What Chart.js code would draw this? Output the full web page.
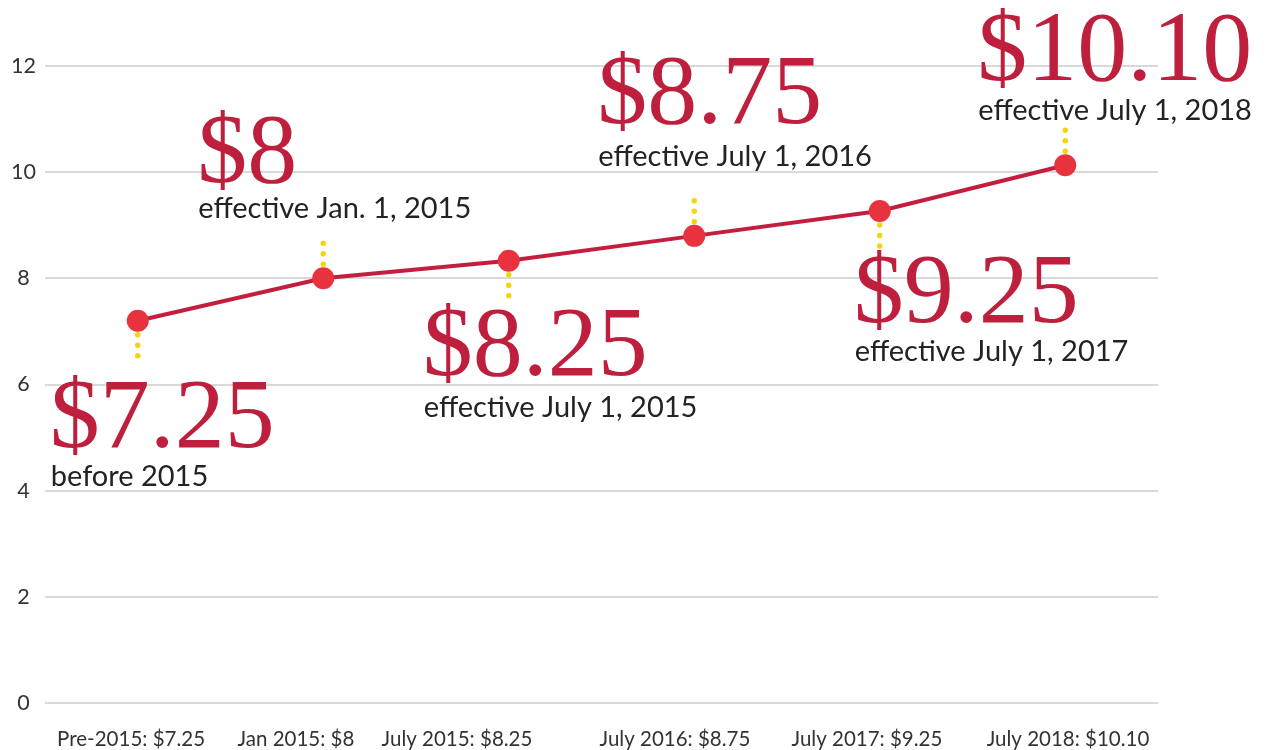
<!DOCTYPE html>
<html><head><meta charset="utf-8">
<script src="https://cdn.jsdelivr.net/npm/chart.js@4"></script>
<style>html,body{margin:0;padding:0;background:#fff}#wrap{width:1265px;height:750px;position:relative}</style>
</head><body><div id="wrap"><canvas id="c" width="1265" height="750"></canvas></div>
<script>
// ---- data ----
const categories = ['Pre-2015', 'Jan 2015', 'July 2015', 'July 2016', 'July 2017', 'July 2018'];
const wageValues = [7.2, 8.0, 8.33, 8.8, 9.27, 10.13];
const tickLabels = ['Pre-2015: $7.25', 'Jan 2015: $8', 'July 2015: $8.25', 'July 2016: $8.75', 'July 2017: $9.25', 'July 2018: $10.10'];
const tickSpots = [-0.036, 0.853, 1.721, 2.896, 3.931, 5.015];
const calloutAmounts = ['$7.25', '$8', '$8.25', '$8.75', '$9.25', '$10.10'];
const calloutNotes = ['before 2015', 'effective Jan. 1, 2015', 'effective July 1, 2015', 'effective July 1, 2016', 'effective July 1, 2017', 'effective July 1, 2018'];

// ---- callout layout (offsets from each point) ----
const calloutLayout = [
  { dx: -88, dy: 126, noteDy: 39, dir: 1 },
  { dx: -126, dy: -96, noteDy: 36, dir: -1 },
  { dx: -86, dy: 114, noteDy: 42, dir: 1 },
  { dx: -97, dy: -113, noteDy: 43, dir: -1 },
  { dx: -26, dy: 111, noteDy: 39, dir: 1 },
  { dx: -88, dy: -85, noteDy: 40, dir: -1 }
];

const calloutPlugin = {
  id: 'callouts',
  beforeDatasetsDraw(chart) {
    const ctx = chart.ctx;
    const pts = chart.getDatasetMeta(0).data;
    ctx.save();
    ctx.strokeStyle = '#f4d40c';
    ctx.lineWidth = 5.5;
    ctx.lineCap = 'round';
    ctx.setLineDash([0, 10.5]);
    pts.forEach((p, i) => {
      const d = calloutLayout[i].dir;
      ctx.beginPath();
      ctx.moveTo(p.x, p.y + d * 14);
      ctx.lineTo(p.x, p.y + d * 37);
      ctx.stroke();
    });
    ctx.restore();
  },
  afterDatasetsDraw(chart) {
    const ctx = chart.ctx;
    const pts = chart.getDatasetMeta(0).data;
    ctx.save();
    ctx.textAlign = 'left';
    ctx.textBaseline = 'alphabetic';
    pts.forEach((p, i) => {
      const L = calloutLayout[i];
      const x = p.x + L.dx;
      const yb = p.y + L.dy;
      ctx.fillStyle = '#be1f3c';
      ctx.font = '100px "Liberation Serif", serif';
      ctx.fillText(calloutAmounts[i], x, yb);
      ctx.fillStyle = '#232323';
      ctx.font = '29px Lato, sans-serif';
      ctx.fillText(calloutNotes[i], x + 1, yb + L.noteDy);
    });
    ctx.restore();
  }
};

new Chart(document.getElementById('c'), {
  type: 'line',
  data: {
    labels: categories,
    datasets: [{
      data: wageValues,
      borderColor: '#c41e3e',
      borderWidth: 4,
      pointRadius: 11,
      pointHoverRadius: 11,
      pointBackgroundColor: '#e8333f',
      pointBorderColor: '#e8333f',
      pointBorderWidth: 0,
      tension: 0,
      fill: false
    }]
  },
  options: {
    responsive: false,
    animation: false,
    events: [],
    layout: { padding: { top: 66, right: 107, bottom: 0, left: 10 } },
    plugins: { legend: { display: false }, tooltip: { enabled: false } },
    scales: {
      x: { type: 'category', display: false, offset: true },
      xLabels: {
        type: 'linear',
        position: 'bottom',
        min: -0.5,
        max: 5.5,
        afterFit: (axis) => { axis.height = 47; },
        grid: { display: false, drawTicks: false },
        border: { display: false },
        afterBuildTicks: (axis) => { axis.ticks = tickSpots.map(v => ({ value: v })); },
        ticks: {
          autoSkip: false,
          maxRotation: 0,
          padding: 24,
          color: '#333333',
          font: { family: 'Lato', size: 20.5 },
          callback: (v, i) => tickLabels[i]
        }
      },
      y: {
        min: 0,
        max: 12,
        afterFit: (axis) => { axis.width = 35; },
        grid: { color: '#d9d9d9', lineWidth: 2, drawTicks: false },
        border: { display: false },
        ticks: {
          stepSize: 2,
          padding: 9,
          crossAlign: 'center',
          color: '#333333',
          font: { family: 'Lato', size: 21.5 }
        }
      }
    }
  },
  plugins: [calloutPlugin]
});
</script>
</body></html>
